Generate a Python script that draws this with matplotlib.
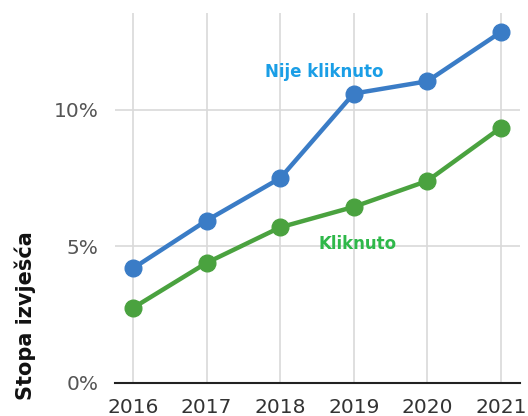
import matplotlib.pyplot as plt
import numpy as np

# data
years = [2016, 2017, 2018, 2019, 2020, 2021]
not_clicked = [4.2, 5.95, 7.5, 10.6, 11.05, 12.85]   # Nije kliknuto
clicked = [2.75, 4.4, 5.7, 6.45, 7.4, 9.35]           # Kliknuto
yticks = [0, 5, 10]
ytick_labels = ['0%', '5%', '10%']

blue = '#3a7cc6'
green = '#4aa23f'

plt.rcParams.update({'font.size': 14, 'font.family': 'DejaVu Sans'})

fig = plt.figure(figsize=(5.28, 4.16), dpi=100)
ax = fig.add_axes([115/528, 1 - 383/416, (520 - 115)/528, (383 - 13)/416])

ax.plot(years, not_clicked, color=blue, lw=3.2, marker='o', markersize=12, zorder=3)
ax.plot(years, clicked, color=green, lw=3.2, marker='o', markersize=12, zorder=3)

ax.set_xlim(2015.755, 2021.26)
ax.set_ylim(0, 13.55)
ax.set_xticks(years)
ax.set_xticklabels([str(y) for y in years], color='#333333', fontsize=14.5)
ax.set_yticks(yticks)
ax.set_yticklabels(ytick_labels, color='#555555', fontsize=14.5)
ax.tick_params(length=0, pad=12)
ax.tick_params(axis='x', pad=11)

ax.grid(True, color='#d9d9d9', lw=1.2, zorder=0)
for s in ['top', 'right', 'left']:
    ax.spines[s].set_visible(False)
ax.spines['bottom'].set_color('#222222')
ax.spines['bottom'].set_linewidth(1.5)

ax.text(2018.6, 11.4, 'Nije kliknuto', color='#1a9ee6', fontsize=12,
        fontweight='bold', ha='center', va='center')
ax.text(2019.05, 5.1, 'Kliknuto', color='#2fb84a', fontsize=12,
        fontweight='bold', ha='center', va='center')

fig.text(25/528, 1 - 316/416, 'Stopa izvješća', rotation=90, fontsize=15,
         fontweight='bold', ha='center', va='center', color='#111111')

plt.savefig('out.png', dpi=100)
